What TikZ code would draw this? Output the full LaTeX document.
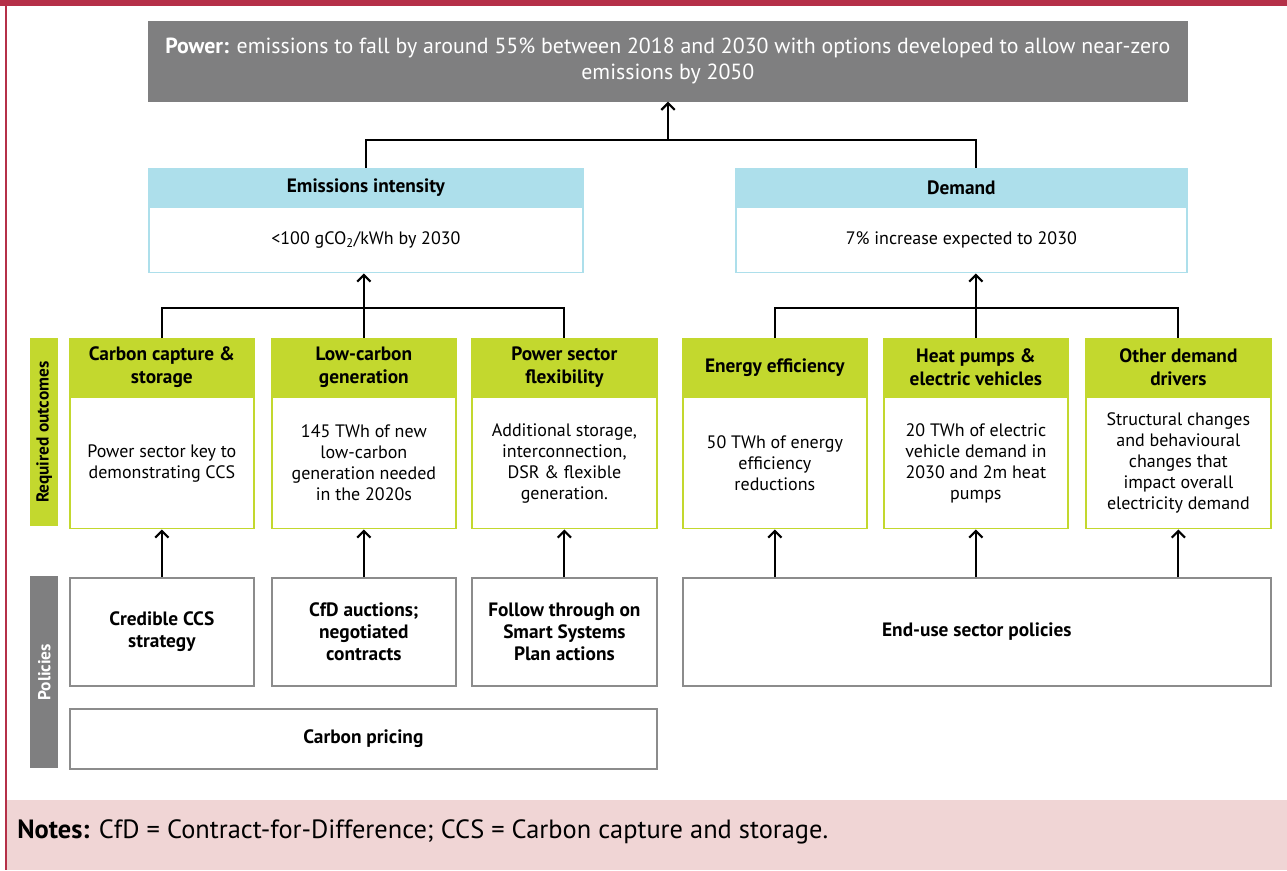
\documentclass[tikz,border=0pt]{standalone}
\usepackage{fontspec}
\setmainfont{PT Sans}
\usetikzlibrary{positioning,arrows.meta}

\definecolor{ccred}{RGB}{181,48,72}
\definecolor{ccgrey}{RGB}{127,127,128}
\definecolor{ccblue}{RGB}{173,223,235}
\definecolor{ccgreen}{RGB}{195,216,46}
\definecolor{ccpink}{RGB}{240,213,213}
\definecolor{ccline}{RGB}{140,140,140}

\newcommand{\bodysize}{\fontsize{13.5}{15.75}\selectfont}
\newcommand{\headsize}{\fontsize{14.5}{17.5}\selectfont\bfseries}

\tikzset{
  pxsize/.style 2 args={minimum width=#1*0.75pt, minimum height=#2*0.75pt},
  box/.style={inner sep=0pt, align=center, line width=1.3pt, anchor=north west},
  bluehead/.style={box, fill=ccblue, draw=ccblue, font=\headsize},
  bluebody/.style={box, fill=white, draw=ccblue, anchor=north},
  greenhead/.style={box, fill=ccgreen, draw=ccgreen, font=\headsize},
  greenbody/.style={box, fill=white, draw=ccgreen, anchor=north},
  policy/.style={box, fill=white, draw=ccline, font=\fontsize{14.5}{16.5}\selectfont\bfseries},
  sidebar/.style={inner sep=0pt, anchor=north west},
  sidetext/.style={rotate=90, font=\fontsize{13}{15}\selectfont\bfseries},
  link/.style={line width=1.6pt},
  arr/.style={link, -{Straight Barb[length=5pt,width=10pt]}}
}

\begin{document}
\begin{tikzpicture}[x=0.75pt, y=-0.75pt, font=\bodysize]
\useasboundingbox (0,0) rectangle (1287,870);
% frame and notes band
\fill[ccred] (0,0) rectangle (1287,6);
\fill[ccred] (5,0) rectangle (7,870);
\fill[ccpink] (7,800) rectangle (1287,870);
\node[anchor=west, inner sep=0pt, font=\fontsize{19.8}{22}\selectfont] (notes) at (17,832) {\textbf{Notes:} CfD = Contract-for-Difference; CCS = Carbon capture and storage.};

% headline
\node[box, pxsize={1038}{79}, fill=ccgrey, draw=ccgrey, text=white, font=\fontsize{16.4}{19.5}\selectfont] (power) at (148,21)
  {\textbf{Power:} emissions to fall by around 55\% between 2018 and 2030 with options developed to allow near-zero\\emissions by 2050};

% emissions intensity and demand
\node[bluehead, pxsize={434}{37}] (emiH) at (148,168) {Emissions intensity};
\node[bluebody, pxsize={434}{65}, below=0pt of emiH] (emiB) {<100 gCO\textsubscript{2}/kWh by 2030};
\node[bluehead, pxsize={451}{37}] (demH) at (735,168) {Demand};
\node[bluebody, pxsize={451}{65}, below=0pt of demH] (demB) {7\% increase expected to 2030};

% required outcomes
\node[sidebar, pxsize={28}{188}, fill=ccgreen] (reqBar) at (30,338) {};
\node[sidetext] (reqText) at (reqBar.center) {Required outcomes};
\node[greenhead, pxsize={184}{57}] (ccsH) at (69,338) {Carbon capture \&\\storage};
\node[greenbody, pxsize={184}{131}, below=0pt of ccsH] (ccsB) {Power sector key to\\demonstrating CCS};
\node[greenhead, pxsize={184}{57}] (lcH) at (271,338) {Low-carbon\\generation};
\node[greenbody, pxsize={184}{131}, below=0pt of lcH] (lcB) {145 TWh of new\\low-carbon\\generation needed\\in the 2020s};
\node[greenhead, pxsize={185}{57}] (pfH) at (471,338) {Power sector\\flexibility};
\node[greenbody, pxsize={185}{131}, below=0pt of pfH] (pfB) {Additional storage,\\interconnection,\\DSR \& flexible\\generation.};
\node[greenhead, pxsize={184}{57}] (eeH) at (682,338) {Energy efficiency};
\node[greenbody, pxsize={184}{131}, below=0pt of eeH] (eeB) {50 TWh of energy\\efficiency\\reductions};
\node[greenhead, pxsize={184}{57}] (hpH) at (883,338) {Heat pumps \&\\electric vehicles};
\node[greenbody, pxsize={184}{131}, below=0pt of hpH] (hpB) {20 TWh of electric\\vehicle demand in\\2030 and 2m heat\\pumps};
\node[greenhead, pxsize={185}{57}] (othH) at (1085,338) {Other demand\\drivers};
\node[greenbody, pxsize={185}{131}, below=0pt of othH] (othB) {Structural changes\\and behavioural\\changes that\\impact overall\\electricity demand};

% policies
\node[sidebar, pxsize={28}{192}, fill=ccgrey] (polBar) at (30,576) {};
\node[sidetext, text=white] (polText) at (polBar.center) {Policies};
\node[policy, pxsize={184}{108}] (ccsP) at (69,577) {Credible CCS\\strategy};
\node[policy, pxsize={184}{108}] (lcP) at (271,577) {CfD auctions;\\negotiated\\contracts};
\node[policy, pxsize={185}{108}] (pfP) at (471,577) {Follow through on\\Smart Systems\\Plan actions};
\node[policy, pxsize={588}{108}] (endP) at (682,577) {End-use sector policies};
\node[policy, pxsize={587}{60}] (carbonP) at (69,708) {Carbon pricing};

% connectors
\coordinate (topBus) at (668,140);
\coordinate (emiBus) at (365,308);
\coordinate (demBus) at (970,308);
\draw[link] (emiH.north) |- (topBus) -| (hpH.north |- demH.north);
\draw[arr] (topBus) -- (topBus |- power.south);
\draw[link] (ccsH.north) |- (emiBus) -| (pfH.north);
\draw[arr] (lcH.north) -- (lcH.north |- emiB.south);
\draw[link] (eeH.north) |- (demBus) -| (othH.north);
\draw[arr] (hpH.north) -- (hpH.north |- demB.south);
\draw[arr] (ccsP.north) -- (ccsB.south);
\draw[arr] (lcP.north) -- (lcB.south);
\draw[arr] (pfP.north) -- (pfB.south);
\draw[arr] (eeB.south |- endP.north) -- (eeB.south);
\draw[arr] (hpB.south |- endP.north) -- (hpB.south);
\draw[arr] (othB.south |- endP.north) -- (othB.south);
\end{tikzpicture}
\end{document}
